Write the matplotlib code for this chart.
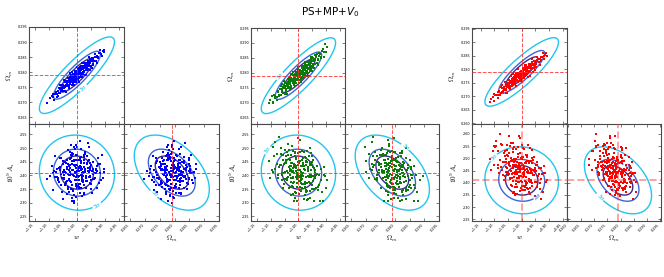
import numpy as np
import matplotlib
matplotlib.use('Agg')
import matplotlib.pyplot as plt
from matplotlib.ticker import FixedLocator, FuncFormatter

W, H = 664, 277

# ---------------- data ----------------
title = 'PS+MP+$V_0$'
param_labels = ['$w$', r'$\Omega_m$', r'$10^9\,A_s$']

# fiducial values (red dashed lines)
fid_w, fid_om, fid_as = -1.0, 0.279, 2.41

# Fisher forecast: marginal 1-sigma errors and correlations
sig_w, sig_om, sig_as = 0.039, 0.0037, 0.040
rho_w_om, rho_w_as, rho_om_as = 0.87, -0.05, -0.45
chi2_levels = [2.30, 4.61, 11.8]
level_names = ['1σ', '2σ', '3σ']
level_colors = ['#3b2a8c', '#3a66d8', '#22c5ee']

# axis ranges for each triangle: (w, Omega_m, 10^9 A_s)
ranges_left = [(-1.171, -0.832), (0.2628, 0.2950), (2.233, 2.588)]
ranges_mid = [(-1.171, -0.832), (0.2628, 0.2950), (2.233, 2.588)]
ranges_right = [(-1.181, -0.835), (0.2597, 0.2953), (2.243, 2.641)]

w_ticks = [-1.15, -1.10, -1.05, -1.00, -0.95, -0.90, -0.85]
om_ticks = [0.265, 0.270, 0.275, 0.280, 0.285, 0.290, 0.295]
om_ticks_right = [0.260, 0.265, 0.270, 0.275, 0.280, 0.285, 0.290, 0.295]
as_ticks = [2.25, 2.30, 2.35, 2.40, 2.45, 2.50, 2.55]
as_ticks_right = [2.25, 2.30, 2.35, 2.40, 2.45, 2.50, 2.55, 2.60]

# sample chains: columns w, Omega_m, 10^9 A_s
blue_chain = np.array([
    [-0.990, 0.2810, 2.434], [-1.038, 0.2753, 2.377], [-0.975, 0.2813, 2.457], [-1.004, 0.2770, 2.394],
    [-0.952, 0.2840, 2.372], [-1.019, 0.2788, 2.452], [-1.000, 0.2787, 2.415], [-0.933, 0.2837, 2.419],
    [-1.029, 0.2771, 2.339], [-0.984, 0.2783, 2.466], [-1.054, 0.2747, 2.391], [-0.994, 0.2813, 2.353],
    [-0.965, 0.2816, 2.446], [-1.013, 0.2767, 2.418], [-1.074, 0.2735, 2.413], [-0.978, 0.2810, 2.381],
    [-1.006, 0.2795, 2.498], [-0.958, 0.2831, 2.395], [-1.032, 0.2754, 2.440], [-0.987, 0.2786, 2.355],
    [-0.971, 0.2828, 2.414], [-1.022, 0.2773, 2.377], [-1.010, 0.2776, 2.457], [-0.942, 0.2837, 2.424],
    [-1.045, 0.2739, 2.402], [-0.997, 0.2800, 2.362], [-0.981, 0.2798, 2.425], [-1.026, 0.2784, 2.459],
    [-0.917, 0.2865, 2.409], [-1.016, 0.2776, 2.306], [-0.968, 0.2806, 2.391], [-1.035, 0.2772, 2.423],
    [-0.990, 0.2798, 2.526], [-1.061, 0.2731, 2.418], [-0.994, 0.2799, 2.383], [-0.955, 0.2843, 2.431],
    [-1.006, 0.2767, 2.408], [-1.000, 0.2799, 2.355], [-1.019, 0.2771, 2.470], [-0.962, 0.2822, 2.415],
    [-1.090, 0.2720, 2.434], [-0.974, 0.2820, 2.337], [-1.003, 0.2800, 2.457], [-0.949, 0.2819, 2.384],
    [-1.040, 0.2757, 2.372], [-0.986, 0.2821, 2.402], [-1.024, 0.2760, 2.485], [-0.980, 0.2802, 2.399],
    [-1.009, 0.2789, 2.299], [-0.930, 0.2853, 2.416], [-1.048, 0.2759, 2.441], [-0.992, 0.2785, 2.383],
    [-0.973, 0.2819, 2.366], [-1.015, 0.2775, 2.418], [-1.067, 0.2722, 2.383], [-0.960, 0.2833, 2.451],
    [-1.001, 0.2792, 2.438], [-0.983, 0.2788, 2.395], [-1.033, 0.2767, 2.350], [-0.945, 0.2848, 2.415],
    [-1.012, 0.2789, 2.504], [-0.996, 0.2786, 2.367], [-0.970, 0.2816, 2.417], [-1.027, 0.2753, 2.434],
    [-0.905, 0.2873, 2.422], [-1.007, 0.2796, 2.382], [-0.989, 0.2803, 2.335], [-1.042, 0.2751, 2.449],
    [-0.977, 0.2801, 2.409], [-1.020, 0.2790, 2.406], [-0.964, 0.2828, 2.381], [-1.080, 0.2727, 2.393],
    [-0.998, 0.2782, 2.476], [-0.938, 0.2837, 2.388], [-1.036, 0.2758, 2.423], [-0.985, 0.2817, 2.431],
    [-1.005, 0.2766, 2.368], [-0.953, 0.2831, 2.425], [-1.023, 0.2778, 2.380], [-0.991, 0.2794, 2.415],
    [-1.056, 0.2737, 2.464], [-0.967, 0.2828, 2.397], [-1.011, 0.2783, 2.327], [-0.979, 0.2795, 2.414],
    [-1.030, 0.2775, 2.402], [-0.924, 0.2847, 2.442], [-1.002, 0.2794, 2.395], [-0.988, 0.2803, 2.369],
    [-1.047, 0.2754, 2.419], [-0.961, 0.2811, 2.426], [-1.017, 0.2768, 2.441], [-0.995, 0.2809, 2.393],
    [-1.105, 0.2697, 2.386], [-0.972, 0.2819, 2.478], [-1.008, 0.2781, 2.413], [-0.948, 0.2842, 2.351],
    [-1.025, 0.2769, 2.428], [-0.982, 0.2817, 2.385], [-1.037, 0.2768, 2.430], [-0.999, 0.2784, 2.405],
    [-0.956, 0.2824, 2.414], [-1.014, 0.2784, 2.347], [-0.976, 0.2819, 2.447], [-1.051, 0.2738, 2.414],
    [-0.993, 0.2781, 2.382], [-0.936, 0.2850, 2.392], [-1.021, 0.2776, 2.465], [-1.003, 0.2782, 2.409],
    [-0.969, 0.2814, 2.379], [-1.063, 0.2749, 2.426], [-0.986, 0.2796, 2.451], [-1.028, 0.2773, 2.383],
    [-0.959, 0.2837, 2.426], [-1.009, 0.2771, 2.398], [-0.914, 0.2859, 2.383], [-0.997, 0.2794, 2.431],
    [-1.043, 0.2755, 2.368], [-0.981, 0.2816, 2.405], [-1.018, 0.2759, 2.420], [-0.974, 0.2805, 2.475],
    [-1.070, 0.2729, 2.394], [-0.992, 0.2805, 2.397], [-0.950, 0.2837, 2.437], [-1.031, 0.2759, 2.404],
    [-1.001, 0.2805, 2.382], [-0.964, 0.2812, 2.442], [-1.011, 0.2778, 2.305], [-0.984, 0.2807, 2.419],
    [-1.039, 0.2771, 2.409], [-0.927, 0.2852, 2.436], [-1.005, 0.2791, 2.511], [-0.978, 0.2797, 2.383],
    [-1.058, 0.2747, 2.366], [-0.990, 0.2806, 2.428], [-1.024, 0.2766, 2.413], [-0.966, 0.2822, 2.391],
    [-1.014, 0.2788, 2.478], [-0.943, 0.2825, 2.405], [-1.034, 0.2755, 2.380], [-0.996, 0.2795, 2.425],
    [-0.980, 0.2818, 2.374], [-1.085, 0.2717, 2.407], [-0.954, 0.2836, 2.397], [-1.007, 0.2775, 2.434],
    [-0.971, 0.2816, 2.422], [-1.046, 0.2747, 2.392], [-0.988, 0.2797, 2.465], [-1.020, 0.2782, 2.349],
    [-0.933, 0.2852, 2.409], [-1.002, 0.2788, 2.426],
    [-1.062, 0.2758, 2.463], [-0.928, 0.2832, 2.352], [-1.018, 0.2799, 2.318], [-0.971, 0.2789, 2.487],
    [-1.043, 0.2736, 2.366], [-0.958, 0.2849, 2.455], [-1.001, 0.2817, 2.402], [-0.994, 0.2768, 2.428],
    [-1.087, 0.2728, 2.347], [-0.912, 0.2854, 2.476], [-1.033, 0.2781, 2.493], [-0.947, 0.2815, 2.335],
    [-1.009, 0.2759, 2.451], [-0.983, 0.2829, 2.381], [-1.071, 0.2716, 2.425], [-0.937, 0.2860, 2.409],
    [-1.025, 0.2796, 2.437], [-0.966, 0.2789, 2.396], [-1.051, 0.2755, 2.312], [-0.999, 0.2775, 2.505],
    [-0.921, 0.2863, 2.372], [-1.039, 0.2735, 2.444], [-0.976, 0.2831, 2.468], [-1.013, 0.2795, 2.343],
    [-0.952, 0.2807, 2.419], [-1.095, 0.2713, 2.398], [-0.989, 0.2818, 2.455], [-1.028, 0.2748, 2.386],
    [-0.961, 0.2834, 2.517], [-1.005, 0.2778, 2.361], [-0.942, 0.2826, 2.448], [-1.057, 0.2759, 2.404],
    [-0.981, 0.2785, 2.326], [-1.020, 0.2782, 2.476], [-0.903, 0.2866, 2.413], [-1.046, 0.2775, 2.388],
    [-0.969, 0.2831, 2.352], [-1.002, 0.2792, 2.439], [-1.078, 0.2726, 2.471], [-0.955, 0.2834, 2.395],
    [-1.015, 0.2765, 2.402], [-0.986, 0.2815, 2.497], [-1.036, 0.2769, 2.331], [-0.933, 0.2851, 2.425],
    [-0.996, 0.2774, 2.458], [-1.063, 0.2730, 2.376], [-0.974, 0.2802, 2.431], [-1.022, 0.2776, 2.512],
    [-0.949, 0.2845, 2.368], [-1.008, 0.2803, 2.414], [-0.918, 0.2873, 2.441], [-1.049, 0.2739, 2.453],
    [-0.979, 0.2811, 2.399], [-1.031, 0.2757, 2.357], [-0.963, 0.2806, 2.472], [-1.004, 0.2795, 2.321],
    [-1.083, 0.2707, 2.416], [-0.941, 0.2848, 2.387], [-1.017, 0.2777, 2.481], [-0.992, 0.2803, 2.359],
    [-1.041, 0.2766, 2.414], [-0.957, 0.2821, 2.502], [-1.011, 0.2793, 2.437], [-0.973, 0.2820, 2.333],
    [-1.068, 0.2739, 2.392], [-0.925, 0.2850, 2.463], [-1.027, 0.2769, 2.421], [-0.985, 0.2795, 2.447],
    [-1.054, 0.2741, 2.339], [-0.944, 0.2840, 2.404], [-1.003, 0.2775, 2.474], [-0.967, 0.2823, 2.378],
    [-1.034, 0.2764, 2.458], [-0.997, 0.2803, 2.426], [-0.908, 0.2869, 2.391], [-1.059, 0.2745, 2.430],
    [-0.982, 0.2822, 2.409], [-1.019, 0.2769, 2.364], [-0.953, 0.2831, 2.446], [-1.024, 0.2783, 2.402],
])

green_chain = np.array([
    [-1.015, 0.2789, 2.440], [-0.958, 0.2818, 2.373], [-1.003, 0.2808, 2.449], [-0.982, 0.2790, 2.370],
    [-1.052, 0.2751, 2.443], [-0.993, 0.2799, 2.395], [-0.940, 0.2858, 2.389], [-1.027, 0.2748, 2.475],
    [-0.971, 0.2824, 2.340], [-1.008, 0.2779, 2.417], [-0.905, 0.2895, 2.397], [-1.038, 0.2769, 2.393],
    [-0.998, 0.2767, 2.444], [-0.967, 0.2816, 2.424], [-1.071, 0.2723, 2.430], [-1.019, 0.2780, 2.356],
    [-0.987, 0.2815, 2.405], [-0.949, 0.2821, 2.431], [-1.044, 0.2737, 2.472], [-1.001, 0.2789, 2.390],
    [-0.976, 0.2829, 2.377], [-1.011, 0.2772, 2.481], [-0.928, 0.2846, 2.356], [-1.030, 0.2778, 2.417],
    [-0.991, 0.2787, 2.372], [-1.088, 0.2724, 2.470], [-0.962, 0.2826, 2.398], [-1.006, 0.2803, 2.372],
    [-0.984, 0.2783, 2.444], [-1.023, 0.2772, 2.411], [-0.953, 0.2845, 2.437], [-1.058, 0.2738, 2.401],
    [-0.996, 0.2800, 2.484], [-0.973, 0.2799, 2.345], [-1.014, 0.2788, 2.431], [-1.034, 0.2753, 2.432],
    [-0.945, 0.2838, 2.351], [-0.989, 0.2805, 2.411], [-1.004, 0.2774, 2.410], [-1.062, 0.2757, 2.480],
    [-0.965, 0.2814, 2.416], [-1.020, 0.2770, 2.372], [-0.980, 0.2819, 2.433], [-0.918, 0.2850, 2.384],
    [-1.047, 0.2754, 2.412], [-1.009, 0.2798, 2.435], [-0.969, 0.2824, 2.310], [-1.026, 0.2746, 2.446],
    [-0.994, 0.2798, 2.395], [-0.937, 0.2855, 2.401], [-1.106, 0.2700, 2.454], [-0.986, 0.2795, 2.457],
    [-1.017, 0.2781, 2.375], [-0.960, 0.2807, 2.400], [-1.035, 0.2774, 2.460], [-0.999, 0.2801, 2.333],
    [-0.977, 0.2809, 2.419], [-1.055, 0.2731, 2.455], [-1.007, 0.2778, 2.427], [-0.951, 0.2852, 2.363],
    [-0.990, 0.2801, 2.433], [-1.029, 0.2772, 2.401], [-0.970, 0.2806, 2.450], [-1.078, 0.2719, 2.443],
    [-1.002, 0.2811, 2.397], [-0.983, 0.2808, 2.369], [-1.041, 0.2763, 2.416], [-0.934, 0.2831, 2.405],
    [-1.012, 0.2781, 2.485], [-0.992, 0.2779, 2.397], [-0.963, 0.2834, 2.394], [-1.024, 0.2773, 2.360],
    [-0.997, 0.2789, 2.451], [-1.049, 0.2765, 2.445], [-0.975, 0.2817, 2.374], [-1.016, 0.2765, 2.435],
    [-0.896, 0.2886, 2.382], [-0.988, 0.2815, 2.385], [-1.032, 0.2762, 2.457], [-1.005, 0.2791, 2.359],
    [-0.956, 0.2823, 2.420], [-1.067, 0.2744, 2.438], [-0.981, 0.2798, 2.425], [-1.021, 0.2791, 2.389],
    [-0.942, 0.2845, 2.427], [-1.010, 0.2766, 2.394], [-0.972, 0.2816, 2.394], [-1.037, 0.2750, 2.474],
    [-0.995, 0.2806, 2.380], [-1.093, 0.2698, 2.505], [-0.985, 0.2803, 2.462], [-0.957, 0.2836, 2.342],
    [-1.018, 0.2779, 2.427], [-1.000, 0.2783, 2.404], [-1.042, 0.2757, 2.390], [-0.966, 0.2799, 2.425],
    [-0.924, 0.2865, 2.365], [-1.028, 0.2782, 2.435], [-0.991, 0.2803, 2.402], [-1.013, 0.2777, 2.338],
    [-0.979, 0.2816, 2.424], [-1.060, 0.2745, 2.407], [-0.947, 0.2828, 2.397], [-1.003, 0.2795, 2.437],
    [-0.974, 0.2827, 2.438], [-1.025, 0.2755, 2.421], [-0.987, 0.2798, 2.355], [-1.050, 0.2750, 2.494],
    [-0.961, 0.2830, 2.376], [-1.007, 0.2795, 2.417], [-0.931, 0.2843, 2.348], [-1.031, 0.2769, 2.423],
    [-0.993, 0.2787, 2.452], [-0.968, 0.2820, 2.372], [-1.074, 0.2739, 2.391], [-1.015, 0.2772, 2.441],
    [-0.982, 0.2823, 2.410], [-0.952, 0.2820, 2.472], [-1.039, 0.2757, 2.410], [-0.998, 0.2806, 2.380],
    [-1.022, 0.2780, 2.446], [-0.964, 0.2825, 2.429], [-1.084, 0.2715, 2.425], [-0.989, 0.2787, 2.382],
    [-0.939, 0.2845, 2.397], [-1.009, 0.2789, 2.461], [-1.045, 0.2746, 2.446], [-0.978, 0.2794, 2.368],
    [-0.999, 0.2792, 2.419], [-1.033, 0.2783, 2.354], [-0.955, 0.2832, 2.395], [-1.012, 0.2777, 2.438],
    [-0.985, 0.2809, 2.399], [-1.064, 0.2726, 2.438], [-0.915, 0.2873, 2.340], [-1.001, 0.2777, 2.398],
    [-0.971, 0.2825, 2.449], [-1.019, 0.2778, 2.417], [-0.994, 0.2793, 2.348], [-1.036, 0.2769, 2.473],
    [-0.948, 0.2838, 2.381], [-0.983, 0.2795, 2.437], [-1.026, 0.2774, 2.390], [-0.996, 0.2810, 2.398],
    [-1.053, 0.2760, 2.408], [-0.959, 0.2812, 2.437], [-1.006, 0.2788, 2.401], [-0.976, 0.2810, 2.468],
    [-1.016, 0.2758, 2.409], [-0.991, 0.2806, 2.390],
    [-1.061, 0.2763, 2.476], [-0.931, 0.2827, 2.348], [-1.021, 0.2802, 2.333], [-0.969, 0.2788, 2.491],
    [-1.048, 0.2730, 2.386], [-0.955, 0.2854, 2.402], [-1.003, 0.2818, 2.483], [-0.990, 0.2770, 2.342],
    [-1.097, 0.2722, 2.421], [-0.909, 0.2854, 2.432], [-1.037, 0.2780, 2.516], [-0.944, 0.2815, 2.305],
    [-1.012, 0.2755, 2.471], [-0.978, 0.2836, 2.352], [-1.076, 0.2709, 2.479], [-0.934, 0.2864, 2.436],
    [-1.028, 0.2795, 2.357], [-0.962, 0.2790, 2.470], [-1.056, 0.2751, 2.353], [-0.996, 0.2775, 2.529],
    [-0.922, 0.2863, 2.306], [-1.042, 0.2730, 2.486], [-0.973, 0.2836, 2.462], [-1.014, 0.2796, 2.316],
    [-0.950, 0.2806, 2.450], [-1.101, 0.2709, 2.389], [-0.986, 0.2823, 2.490], [-1.031, 0.2744, 2.418],
    [-0.958, 0.2838, 2.501], [-1.006, 0.2776, 2.308], [-0.939, 0.2828, 2.407], [-1.064, 0.2755, 2.501],
    [-0.980, 0.2784, 2.314], [-1.023, 0.2780, 2.506], [-0.899, 0.2869, 2.353], [-1.051, 0.2773, 2.370],
    [-0.964, 0.2837, 2.312], [-1.000, 0.2795, 2.537], [-1.083, 0.2722, 2.521], [-0.952, 0.2838, 2.351],
    [-1.017, 0.2763, 2.306], [-0.984, 0.2818, 2.433], [-1.040, 0.2767, 2.384], [-0.927, 0.2856, 2.400],
    [-0.993, 0.2775, 2.359], [-1.069, 0.2724, 2.540], [-0.972, 0.2803, 2.452], [-1.025, 0.2775, 2.329],
    [-0.946, 0.2849, 2.455], [-1.010, 0.2803, 2.462], [-0.913, 0.2878, 2.307], [-1.046, 0.2741, 2.449],
    [-0.976, 0.2813, 2.356], [-1.034, 0.2753, 2.492], [-0.960, 0.2808, 2.319], [-1.004, 0.2796, 2.386],
    [-1.090, 0.2701, 2.413], [-0.936, 0.2853, 2.352], [-1.019, 0.2775, 2.489], [-0.988, 0.2806, 2.370],
    [-1.044, 0.2765, 2.455], [-0.954, 0.2822, 2.481], [-1.008, 0.2796, 2.336], [-0.966, 0.2827, 2.398],
    [-1.072, 0.2737, 2.402], [-0.919, 0.2854, 2.422], [-1.029, 0.2767, 2.434], [-0.981, 0.2797, 2.486],
    [-1.058, 0.2737, 2.382], [-0.941, 0.2842, 2.419], [-1.002, 0.2775, 2.419], [-0.970, 0.2822, 2.341],
    [-1.036, 0.2763, 2.476], [-0.995, 0.2805, 2.421], [-0.906, 0.2871, 2.401], [-1.054, 0.2750, 2.474],
    [-0.978, 0.2827, 2.328], [-1.020, 0.2767, 2.394], [-0.957, 0.2829, 2.447], [-1.026, 0.2782, 2.375],
])

red_chain = np.array([
    [-0.998, 0.2787, 2.475], [-1.045, 0.2734, 2.472], [-0.980, 0.2810, 2.398], [-1.015, 0.2757, 2.516],
    [-0.960, 0.2817, 2.433], [-1.030, 0.2768, 2.408], [-1.007, 0.2772, 2.455], [-0.940, 0.2838, 2.429],
    [-1.070, 0.2716, 2.554], [-0.992, 0.2770, 2.436], [-1.037, 0.2753, 2.488], [-1.002, 0.2793, 2.380],
    [-0.972, 0.2795, 2.479], [-1.022, 0.2763, 2.471], [-1.088, 0.2716, 2.474], [-0.986, 0.2795, 2.399],
    [-1.012, 0.2758, 2.545], [-0.966, 0.2818, 2.413], [-1.050, 0.2736, 2.510], [-0.995, 0.2791, 2.442],
    [-0.978, 0.2785, 2.376], [-1.027, 0.2766, 2.499], [-1.018, 0.2759, 2.434], [-0.948, 0.2821, 2.471],
    [-1.058, 0.2742, 2.486], [-1.005, 0.2778, 2.429], [-0.989, 0.2805, 2.452], [-1.034, 0.2742, 2.436],
    [-0.925, 0.2844, 2.435], [-1.024, 0.2763, 2.381], [-0.975, 0.2806, 2.491], [-1.042, 0.2752, 2.469],
    [-1.000, 0.2773, 2.554], [-1.075, 0.2713, 2.466], [-1.008, 0.2784, 2.467], [-0.962, 0.2826, 2.397],
    [-1.014, 0.2753, 2.458], [-1.009, 0.2778, 2.401], [-1.031, 0.2751, 2.540], [-0.970, 0.2805, 2.442],
    [-1.105, 0.2697, 2.530], [-0.983, 0.2802, 2.404], [-1.011, 0.2783, 2.477], [-0.955, 0.2806, 2.431],
    [-1.047, 0.2743, 2.435], [-0.997, 0.2800, 2.435], [-1.032, 0.2744, 2.525], [-0.991, 0.2784, 2.437],
    [-1.019, 0.2770, 2.396], [-0.935, 0.2839, 2.397], [-1.060, 0.2722, 2.530], [-1.003, 0.2767, 2.479],
    [-0.982, 0.2797, 2.457], [-1.025, 0.2773, 2.434], [-1.080, 0.2704, 2.493], [-0.968, 0.2813, 2.456],
    [-1.013, 0.2772, 2.505], [-0.993, 0.2768, 2.428], [-1.040, 0.2755, 2.447], [-0.952, 0.2831, 2.454],
    [-1.021, 0.2758, 2.465], [-1.006, 0.2783, 2.367], [-0.977, 0.2793, 2.450], [-1.036, 0.2738, 2.489],
    [-0.918, 0.2848, 2.442], [-1.016, 0.2778, 2.421], [-0.999, 0.2785, 2.506], [-1.053, 0.2734, 2.462],
    [-0.987, 0.2783, 2.407], [-1.028, 0.2773, 2.484], [-0.973, 0.2811, 2.406], [-1.092, 0.2706, 2.551],
    [-1.008, 0.2764, 2.461], [-0.946, 0.2834, 2.382], [-1.045, 0.2747, 2.483], [-0.996, 0.2781, 2.459],
    [-1.015, 0.2787, 2.404], [-0.964, 0.2806, 2.501], [-1.033, 0.2748, 2.461], [-1.001, 0.2782, 2.458],
    [-1.066, 0.2727, 2.487], [-0.980, 0.2782, 2.488], [-1.020, 0.2770, 2.406], [-0.990, 0.2799, 2.456],
    [-1.038, 0.2748, 2.562], [-0.930, 0.2831, 2.414], [-1.010, 0.2778, 2.481], [-0.994, 0.2788, 2.424],
    [-1.055, 0.2747, 2.443], [-0.971, 0.2808, 2.380], [-1.026, 0.2751, 2.490], [-1.004, 0.2792, 2.481],
    [-1.115, 0.2680, 2.499], [-0.984, 0.2800, 2.485], [-1.017, 0.2758, 2.445], [-0.958, 0.2820, 2.451],
    [-1.043, 0.2738, 2.419], [-0.992, 0.2787, 2.466], [-1.012, 0.2779, 2.445], [-0.976, 0.2790, 2.442],
    [-1.072, 0.2731, 2.454], [-1.000, 0.2767, 2.499], [-1.029, 0.2759, 2.424], [-0.944, 0.2830, 2.474],
    [-1.023, 0.2759, 2.474], [-0.985, 0.2804, 2.422], [-1.048, 0.2729, 2.485], [-1.006, 0.2774, 2.524],
    [-0.967, 0.2801, 2.405], [-1.035, 0.2761, 2.493], [-0.998, 0.2790, 2.372], [-1.062, 0.2722, 2.510],
    [-0.953, 0.2817, 2.403], [-1.013, 0.2773, 2.444], [-0.988, 0.2779, 2.480], [-1.052, 0.2743, 2.535],
    [-1.002, 0.2782, 2.428], [-0.912, 0.2860, 2.403], [-1.030, 0.2740, 2.467], [-0.981, 0.2802, 2.444],
    [-1.019, 0.2776, 2.452], [-0.961, 0.2804, 2.483], [-1.085, 0.2706, 2.461], [-1.009, 0.2767, 2.429],
    [-0.974, 0.2812, 2.417], [-1.039, 0.2751, 2.500], [-0.995, 0.2777, 2.471], [-1.022, 0.2767, 2.439],
    [-0.938, 0.2828, 2.436], [-1.057, 0.2728, 2.466], [-1.005, 0.2789, 2.443], [-0.979, 0.2800, 2.515],
    [-1.026, 0.2745, 2.444], [-0.990, 0.2787, 2.444], [-1.098, 0.2705, 2.546], [-1.014, 0.2770, 2.466],
    [-0.969, 0.2818, 2.401], [-1.043, 0.2757, 2.415], [-1.001, 0.2776, 2.502], [-0.950, 0.2811, 2.458],
    [-1.032, 0.2759, 2.474], [-0.993, 0.2796, 2.388], [-1.067, 0.2715, 2.485], [-1.007, 0.2778, 2.451],
    [-0.984, 0.2790, 2.482], [-1.018, 0.2755, 2.487], [-0.965, 0.2811, 2.448], [-1.050, 0.2747, 2.433],
    [-0.997, 0.2783, 2.457], [-1.011, 0.2768, 2.418],
    [-1.071, 0.2742, 2.556], [-0.935, 0.2816, 2.374], [-1.030, 0.2783, 2.357], [-0.978, 0.2772, 2.555],
    [-1.058, 0.2713, 2.446], [-0.962, 0.2837, 2.439], [-1.012, 0.2800, 2.545], [-1.000, 0.2753, 2.388],
    [-1.102, 0.2707, 2.551], [-0.920, 0.2837, 2.469], [-1.046, 0.2761, 2.593], [-0.952, 0.2799, 2.346],
    [-1.022, 0.2738, 2.539], [-0.988, 0.2817, 2.383], [-1.086, 0.2692, 2.531], [-0.944, 0.2845, 2.484],
    [-1.038, 0.2776, 2.392], [-0.971, 0.2774, 2.544], [-1.066, 0.2733, 2.412], [-1.006, 0.2758, 2.585],
    [-0.931, 0.2846, 2.333], [-1.052, 0.2713, 2.556], [-0.983, 0.2817, 2.513], [-1.024, 0.2777, 2.351],
    [-0.960, 0.2790, 2.492], [-1.111, 0.2691, 2.452], [-0.996, 0.2804, 2.543], [-1.041, 0.2727, 2.467],
    [-0.968, 0.2820, 2.541], [-1.016, 0.2758, 2.355], [-0.949, 0.2810, 2.448], [-1.074, 0.2736, 2.560],
    [-0.990, 0.2767, 2.369], [-1.033, 0.2762, 2.562], [-0.909, 0.2851, 2.411], [-1.061, 0.2754, 2.428],
    [-0.974, 0.2819, 2.362], [-1.010, 0.2777, 2.591], [-1.093, 0.2704, 2.573], [-0.962, 0.2820, 2.388],
    [-1.027, 0.2745, 2.364], [-0.994, 0.2800, 2.505], [-1.050, 0.2749, 2.441], [-0.937, 0.2838, 2.459],
    [-1.003, 0.2757, 2.406], [-1.079, 0.2706, 2.601], [-0.982, 0.2785, 2.506], [-1.035, 0.2757, 2.386],
    [-0.956, 0.2831, 2.504], [-1.020, 0.2785, 2.496], [-0.923, 0.2860, 2.363], [-1.056, 0.2723, 2.499],
    [-0.986, 0.2795, 2.389], [-1.044, 0.2735, 2.551], [-0.970, 0.2790, 2.353], [-1.014, 0.2778, 2.421],
    [-1.100, 0.2682, 2.474], [-0.946, 0.2835, 2.401], [-1.029, 0.2757, 2.546], [-0.998, 0.2788, 2.404],
    [-1.054, 0.2747, 2.513], [-0.964, 0.2804, 2.533], [-1.018, 0.2778, 2.381], [-0.976, 0.2809, 2.439],
    [-1.082, 0.2719, 2.442], [-0.929, 0.2836, 2.460], [-1.039, 0.2749, 2.491], [-0.991, 0.2779, 2.540],
    [-1.068, 0.2719, 2.432], [-0.951, 0.2824, 2.459], [-1.012, 0.2757, 2.466], [-0.980, 0.2804, 2.378],
    [-1.046, 0.2745, 2.524], [-1.005, 0.2787, 2.464], [-0.916, 0.2853, 2.438], [-1.064, 0.2732, 2.523],
    [-0.988, 0.2809, 2.369], [-1.030, 0.2749, 2.441], [-0.967, 0.2811, 2.488], [-1.036, 0.2764, 2.421],
])

# contour label positions (level, (x, y)) for each triangle: top, bottom-left, bottom-right
labels_left = [[(11.8, (-0.979, 0.2749))], [(11.8, (-0.946, 2.321))], [(11.8, (0.2722, 2.324))]]
labels_mid = [[(11.8, (-1.072, 0.2792))], [(11.8, (-1.101, 2.485))], [(11.8, (0.2844, 2.518))]]
labels_right = [[], [(11.8, (-1.096, 2.497)), (4.61, (-0.958, 2.366))],
                [(11.8, (0.2714, 2.333)), (4.61, (0.2843, 2.485)), (2.30, (0.2760, 2.370))]]

# ---------------- drawing ----------------
fig = plt.figure(figsize=(W / 100, H / 100), dpi=100)
fig.patch.set_facecolor('white')

fid = [fid_w, fid_om, fid_as]
sig = [sig_w, sig_om, sig_as]
rho = {(0, 1): rho_w_om, (0, 2): rho_w_as, (1, 2): rho_om_as}
spine_col = '#4a4a4a'
LABFS = 5.2
TICKFS = 2.4


def px_axes(x0, y0, x1, y1):
    return fig.add_axes([x0 / W, 1 - y1 / H, (x1 - x0) / W, (y1 - y0) / H])


def fmt_factory(nd):
    return FuncFormatter(lambda v, p: f'{v:.{nd}f}'.replace('-', '\u2212'))


def style(ax):
    for s in ax.spines.values():
        s.set_color(spine_col)
        s.set_linewidth(0.8)
    ax.tick_params(direction='in', top=True, right=True, length=2.2, width=0.5,
                   color=spine_col, labelsize=TICKFS, pad=1.2)


def panel(ax, i, j, chain, color, ranges, ticks, fmts, labpos, thick_fid=False):
    xr, yr = ranges[i], ranges[j]
    # Fisher ellipses from the marginal 2x2 covariance
    r = rho[(i, j)]
    C = np.array([[sig[i] ** 2, r * sig[i] * sig[j]], [r * sig[i] * sig[j], sig[j] ** 2]])
    Ci = np.linalg.inv(C)
    gx = np.linspace(xr[0], xr[1], 300)
    gy = np.linspace(yr[0], yr[1], 300)
    X, Y = np.meshgrid(gx, gy)
    dx, dy = X - fid[i], Y - fid[j]
    Z = Ci[0, 0] * dx * dx + 2 * Ci[0, 1] * dx * dy + Ci[1, 1] * dy * dy
    for k, lev in enumerate(chi2_levels):
        cs = ax.contour(X, Y, Z, levels=[lev], colors=[level_colors[k]], linewidths=1.0, zorder=2)
        pos = [p for (l, p) in labpos if l == lev]
        if pos:
            ax.clabel(cs, manual=pos, fmt={lev: level_names[k]},
                      fontsize=4.2, inline=True, inline_spacing=1)
    ax.scatter(chain[:, i], chain[:, j], s=3.2, c=color, marker='s', linewidths=0, zorder=3)
    if thick_fid:
        ax.axvline(fid[i], color='#ff3030', ls='--', lw=1.4, alpha=0.45, zorder=4)
        ax.axhline(fid[j], color='#ff3030', ls='--', lw=1.4, alpha=0.45, zorder=4)
    else:
        ax.axvline(fid[i], color='#ff3030', ls='--', lw=0.7, alpha=0.85, zorder=4)
        ax.axhline(fid[j], color='#ff3030', ls='--', lw=0.7, alpha=0.85, zorder=4)
    ax.set_xlim(xr)
    ax.set_ylim(yr)
    ax.xaxis.set_major_locator(FixedLocator(ticks[i]))
    ax.yaxis.set_major_locator(FixedLocator(ticks[j]))
    ax.xaxis.set_major_formatter(fmts[i])
    ax.yaxis.set_major_formatter(fmts[j])
    style(ax)


def triangle(boxes, chain, color, ranges, ticks, labels, thick=False):
    fmts = [fmt_factory(2), fmt_factory(3), fmt_factory(2)]
    top = px_axes(*boxes[0])
    bl = px_axes(*boxes[1])
    br = px_axes(*boxes[2])
    panel(top, 0, 1, chain, color, ranges, ticks, fmts, labels[0])
    panel(bl, 0, 2, chain, color, ranges, ticks, fmts, labels[1], thick)
    panel(br, 1, 2, chain, color, ranges, ticks, fmts, labels[2], thick)
    top.tick_params(labelbottom=False)
    br.tick_params(labelleft=False)
    for a in (bl, br):
        for t in a.get_xticklabels():
            t.set_rotation(45)
            t.set_ha('right')
            t.set_va('top')
    top.set_ylabel(param_labels[1], fontsize=LABFS, math_fontfamily='cm', labelpad=2)
    bl.set_ylabel(param_labels[2], fontsize=LABFS, math_fontfamily='cm', labelpad=2)
    bl.set_xlabel(param_labels[0], fontsize=LABFS, math_fontfamily='cm', labelpad=1)
    br.set_xlabel(param_labels[1], fontsize=LABFS, math_fontfamily='cm', labelpad=1)


ticks_lm = [w_ticks, om_ticks, as_ticks]
ticks_r = [w_ticks, om_ticks_right, as_ticks_right]

triangle([(29, 27, 124, 124), (29, 124, 124, 221), (124, 124, 219, 221)],
         blue_chain, '#0000ff', ranges_left, ticks_lm, labels_left)
triangle([(251, 28, 345, 124), (251, 124, 345, 221), (345, 124, 439, 221)],
         green_chain, '#0a7a0a', ranges_mid, ticks_lm, labels_mid)
triangle([(472, 28, 567, 124), (472, 124, 567, 221), (567, 124, 661, 221)],
         red_chain, '#ff0000', ranges_right, ticks_r, labels_right, thick=True)

fig.text(330 / W, 1 - 12 / H, title, ha='center', va='center', fontsize=7.5)

fig.savefig('out.png', dpi=100)
